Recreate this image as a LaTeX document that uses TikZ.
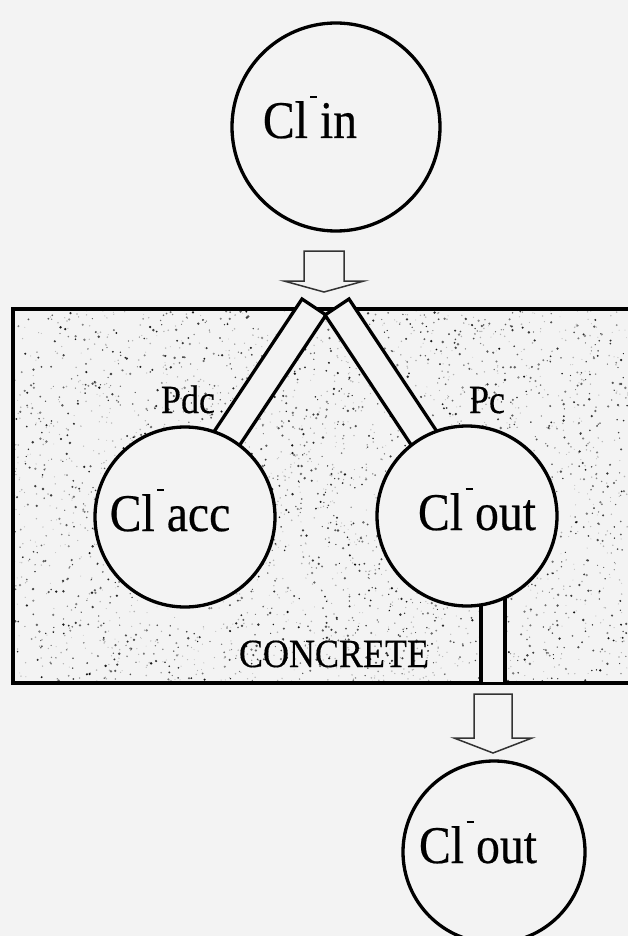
\documentclass[tikz,border=0pt]{standalone}
\usepackage{fontspec}
\setmainfont{Liberation Serif}[FakeStretch=0.9,FakeBold=0.4]
\definecolor{paper}{RGB}{243,243,243}
\newcommand\clminus{\kern2.5pt\raisebox{40pt}{\rule{7pt}{2.4pt}}\kern2.5pt}
\begin{document}
\begin{tikzpicture}[x=1pt,y=-1pt,
  ring/.style={circle, draw=black, line width=3.3pt, fill=paper, inner sep=0pt, minimum size=#1},
  chan/.style={draw=black, line width=3.3pt, fill=paper, line join=miter},
  blockarrow/.style={draw=black!80, line width=1.5pt, fill=paper, line join=miter},
  big/.style={font=\fontsize{53}{53}\selectfont, inner sep=0pt, anchor=base},
  small/.style={font=\fontsize{40}{40}\selectfont, inner sep=0pt, anchor=base}]
\useasboundingbox (0,0) rectangle (628,936);
\fill[paper] (0,0) rectangle (628,936);
% concrete texture
\pgfmathsetseed{7}
\begin{scope}
  \clip (13,309) rectangle (628,683);
  \foreach \i in {1,...,1600}{
    \pgfmathsetmacro\rx{13+615*rnd}
    \pgfmathsetmacro\ry{309+374*rnd}
    \pgfmathsetmacro\rr{0.4+0.5*rnd}
    \fill[black!30] (\rx,\ry) circle (\rr pt);
  }
  \foreach \i in {1,...,1900}{
    \pgfmathsetmacro\rx{13+615*rnd}
    \pgfmathsetmacro\ry{309+374*rnd}
    \pgfmathsetmacro\rr{0.55+0.8*rnd}
    \pgfmathsetmacro\gg{int(45+50*rnd)}
    \fill[black!\gg] (\rx,\ry) circle (\rr pt);
  }
\end{scope}
\draw[line width=3.6pt] (700,309) -- (13,309) -- (13,683) -- (700,683);
% channel coordinates
\coordinate (la) at (302,299);
\coordinate (lb) at (326,315);
\coordinate (lc) at (226.5,465);
\coordinate (ld) at (202.5,449);
\coordinate (ra) at (349,299);
\coordinate (rb) at (325,315);
\coordinate (rc) at (424.5,465);
\coordinate (rd) at (448.5,449);
\draw[chan] (la) -- (lb) -- (lc) -- (ld) -- cycle;
\draw[chan] (ra) -- (rb) -- (rc) -- (rd) -- cycle;
% bottom channel
\coordinate (ba) at (481,560);
\coordinate (bb) at (505,560);
\coordinate (bc) at (481,683);
\coordinate (bd) at (505,683);
\fill[paper] (ba) rectangle (505,681.5);
\draw[line width=3.3pt] (ba) -- (bc) (bb) -- (bd);
% circles
\node[ring=208pt] (cin) at (336,127) {};
\node[ring=180pt] (cacc) at (185,517) {};
\node[ring=180pt] (cout) at (467,516) {};
\node[ring=182pt] (cout2) at (494,852) {};
% arrows
\draw[blockarrow] (304,251) -- (344,251) -- (344,281) -- (364,281) -- (324,292) -- (284,281) -- (304,281) -- cycle;
\draw[blockarrow] (474,694) -- (512,694) -- (512,738) -- (532,738) -- (493,753) -- (454,738) -- (474,738) -- cycle;
% texts
\node[big] (tin) at (310,138) {Cl\clminus in};
\node[big] (tacc) at (170,531) {Cl\clminus acc};
\node[big] (tout) at (477,530) {Cl\clminus out};
\node[big] (tout2) at (478,863) {Cl\clminus out};
\node[small] (pdc) at (188,413) {Pdc};
\node[small] (pc) at (487,413) {Pc};
\node[small] (conc) at (334,667) {CONCRETE};
\end{tikzpicture}
\end{document}
